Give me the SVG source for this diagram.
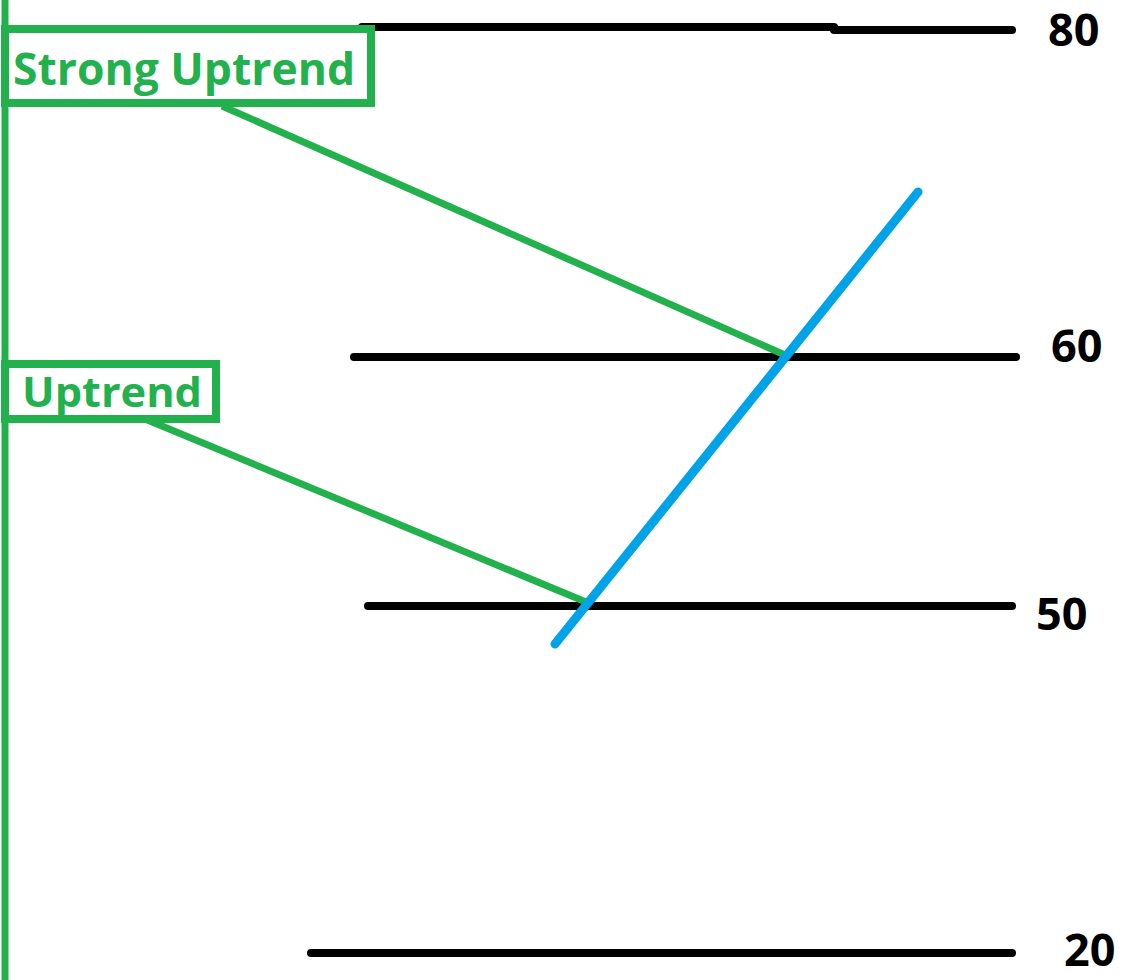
<svg xmlns="http://www.w3.org/2000/svg" width="1126" height="980" viewBox="0 0 1126 980">
<style>
.lvl{stroke:#000;stroke-width:8;stroke-linecap:round;fill:none}
.g{stroke:#22B14C;fill:none}
.box{stroke:#22B14C;stroke-width:8;fill:#fff}
.lbl{font-family:"Open Sans","Liberation Sans",sans-serif;font-weight:bold;fill:#22B14C}
.num{font-family:"Open Sans","Liberation Sans",sans-serif;font-weight:bold;font-size:45px;fill:#000}
</style>
<rect width="1126" height="980" fill="#fff"/>
<g id="axis">
<line class="g" x1="5" y1="0" x2="5" y2="980" stroke-width="7"/>
</g>
<g id="level-80">
<line class="lvl" x1="362" y1="27" x2="834" y2="27"/>
<line class="lvl" x1="834" y1="30" x2="1012" y2="30"/>
<text class="num" x="1048" y="46">80</text>
</g>
<g id="level-60">
<line class="lvl" x1="354" y1="357" x2="1016" y2="357"/>
<text class="num" x="1051" y="362">60</text>
</g>
<g id="level-50">
<line class="lvl" x1="368" y1="606" x2="1012" y2="606"/>
<text class="num" x="1036" y="630">50</text>
</g>
<g id="level-20">
<line class="lvl" x1="311" y1="953" x2="1012" y2="953"/>
<text class="num" x="1064" y="966" font-size="43">20</text>
</g>
<g id="connectors">
<line class="g" x1="222" y1="106" x2="785" y2="355" stroke-width="7"/>
<line class="g" x1="145" y1="419" x2="586" y2="602" stroke-width="7"/>
<line x1="555" y1="644" x2="918" y2="192" stroke="#00A2E8" stroke-width="9" stroke-linecap="round"/>
</g>
<g id="strong-uptrend">
<rect class="box" x="5" y="29" width="366" height="74"/>
<text class="lbl" x="13" y="85" font-size="44" textLength="342" lengthAdjust="spacingAndGlyphs">Strong Uptrend</text>
</g>
<g id="uptrend">
<rect class="box" x="5" y="364" width="211" height="55"/>
<text class="lbl" x="22" y="407" font-size="42" textLength="180" lengthAdjust="spacingAndGlyphs">Uptrend</text>
</g>
</svg>
